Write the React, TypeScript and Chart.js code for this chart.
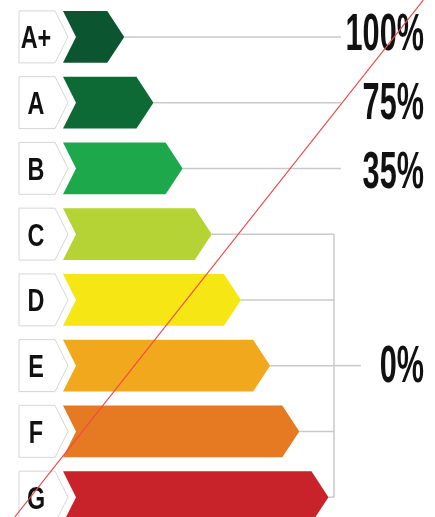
import React, { useEffect, useRef } from "react";
import { Chart, registerables } from "chart.js";

Chart.register(...registerables);

// ---- data ----
const CLASSES = ["A+", "A", "B", "C", "D", "E", "F", "G"];
const BAR_LENGTH = [2, 3, 4, 5, 6, 7, 8, 9];
const CLASS_COLORS = ["#0b5530", "#0d6a35", "#1ea84c", "#b5d334", "#f6e614", "#f1a81d", "#e67a22", "#c8222a"];
const SHARE_LABELS = ["100%", "75%", "35%", "0%"];
const SHARE_GROUPS = [[0], [1], [2], [3, 4, 5, 6, 7]];
// strike-through line, in (x value, class index) coordinates
const STRIKE_X = [-1.75, 12.25];
const STRIKE_Y = [7.3, -0.56];

const FONT = '"Liberation Sans", Arial, sans-serif';

const energyPlugin = {
  id: "energyLabel",
  beforeDatasetsDraw(chart: any) {
    const ctx = chart.ctx as CanvasRenderingContext2D;
    const meta = chart.getDatasetMeta(0);
    const area = chart.chartArea;
    const ds = chart.data.datasets[0];
    const bars = meta.data.map((b: any) => b.getProps(["x", "y", "height", "base"], true));

    // connectors & shares
    ctx.save();
    ctx.strokeStyle = "#c9c9c9";
    ctx.lineWidth = 1.5;
    const lineEnd = area.right - 75;
    const bracketX = area.right - 82;
    const branchEnd = area.right - 55;
    const textRight = area.right + 8;
    const pctSize = 52;
    const nudges = [-5, -2.5, 1.5, -2];
    SHARE_GROUPS.forEach((g, gi) => {
      let ty: number;
      if (g.length === 1) {
        const b = bars[g[0]];
        ctx.beginPath();
        ctx.moveTo(b.x, b.y);
        ctx.lineTo(lineEnd, b.y);
        ctx.stroke();
        ty = b.y;
      } else {
        g.forEach((i) => {
          const b = bars[i];
          ctx.beginPath();
          ctx.moveTo(b.x, b.y);
          ctx.lineTo(bracketX, b.y);
          ctx.stroke();
        });
        const y0 = bars[g[0]].y;
        const y1 = bars[g[g.length - 1]].y;
        ctx.beginPath();
        ctx.moveTo(bracketX, y0);
        ctx.lineTo(bracketX, y1);
        ctx.stroke();
        ty = (y0 + y1) / 2;
        ctx.beginPath();
        ctx.moveTo(bracketX, ty);
        ctx.lineTo(branchEnd, ty);
        ctx.stroke();
      }
      ctx.save();
      ctx.fillStyle = "#111";
      ctx.font = `bold ${pctSize}px ${FONT}`;
      ctx.textAlign = "right";
      ctx.textBaseline = "alphabetic";
      const sx = 0.59;
      ctx.translate(textRight, ty + nudges[gi] + pctSize * 0.358);
      ctx.scale(sx, 1);
      ctx.fillText(SHARE_LABELS[gi], 0, 0);
      ctx.restore();
    });
    ctx.restore();

    bars.forEach((b: any, i: number) => {
      const half = b.height / 2;
      const top = b.y - half;
      const bot = b.y + half;
      const head = 17;
      const notch = 13;
      const base = b.base;
      // label box
      const boxL = base - 44;
      const boxR = base - 8;
      ctx.save();
      ctx.beginPath();
      ctx.moveTo(boxL, top);
      ctx.lineTo(boxR, top);
      ctx.lineTo(boxR + notch, b.y);
      ctx.lineTo(boxR, bot);
      ctx.lineTo(boxL, bot);
      ctx.closePath();
      ctx.fillStyle = "#ffffff";
      ctx.fill();
      ctx.strokeStyle = "#d6d6d6";
      ctx.lineWidth = 1;
      ctx.stroke();
      // letter
      const ls = 32;
      ctx.fillStyle = "#111";
      ctx.font = `bold ${ls}px ${FONT}`;
      ctx.textAlign = "center";
      ctx.textBaseline = "alphabetic";
      ctx.translate(boxL + 17, b.y + ls * 0.358);
      ctx.scale(0.73, 1);
      ctx.fillText(CLASSES[i], 0, 0);
      ctx.restore();
      // chevron bar
      ctx.save();
      ctx.beginPath();
      ctx.moveTo(base, top);
      ctx.lineTo(b.x - head, top);
      ctx.lineTo(b.x, b.y);
      ctx.lineTo(b.x - head, bot);
      ctx.lineTo(base, bot);
      ctx.lineTo(base + notch, b.y);
      ctx.closePath();
      ctx.fillStyle = (ds.backgroundColor as string[])[i];
      ctx.fill();
      ctx.restore();
    });
    return false;
  },
  afterDraw(chart: any) {
    const ctx = chart.ctx as CanvasRenderingContext2D;
    const xs = chart.scales.x;
    const ys = chart.scales.y;
    ctx.save();
    ctx.strokeStyle = "#f04848";
    ctx.lineWidth = 1.1;
    ctx.beginPath();
    ctx.moveTo(xs.getPixelForValue(STRIKE_X[0]), ys.getPixelForValue(STRIKE_Y[0]));
    ctx.lineTo(xs.getPixelForValue(STRIKE_X[1]), ys.getPixelForValue(STRIKE_Y[1]));
    ctx.stroke();
    ctx.restore();
  },
};

export default function App() {
  const ref = useRef<HTMLCanvasElement>(null);
  useEffect(() => {
    document.body.style.margin = "0";
    const chart = new Chart(ref.current!, {
      type: "bar",
      data: {
        labels: CLASSES,
        datasets: [
          {
            data: BAR_LENGTH,
            backgroundColor: CLASS_COLORS,
            base: -0.1,
            barPercentage: 0.79,
            categoryPercentage: 1,
          } as any,
        ],
      },
      options: {
        indexAxis: "y",
        responsive: false,
        animation: false,
        devicePixelRatio: 1,
        layout: { padding: { left: 63, right: 19, top: 4, bottom: 4 } },
        scales: {
          x: { type: "linear", min: -0.1, max: 12, display: false },
          y: { type: "category", display: false, offset: true },
        },
        plugins: { legend: { display: false }, tooltip: { enabled: false } },
      },
      plugins: [energyPlugin],
    });
    return () => chart.destroy();
  }, []);
  return (
    <div style={{ position: "fixed", left: 0, top: 0, width: 435, height: 517, overflow: "hidden", background: "#fff" }}>
      <canvas ref={ref} width={435} height={534} style={{ display: "block", width: 435, height: 534 }} />
    </div>
  );
}
